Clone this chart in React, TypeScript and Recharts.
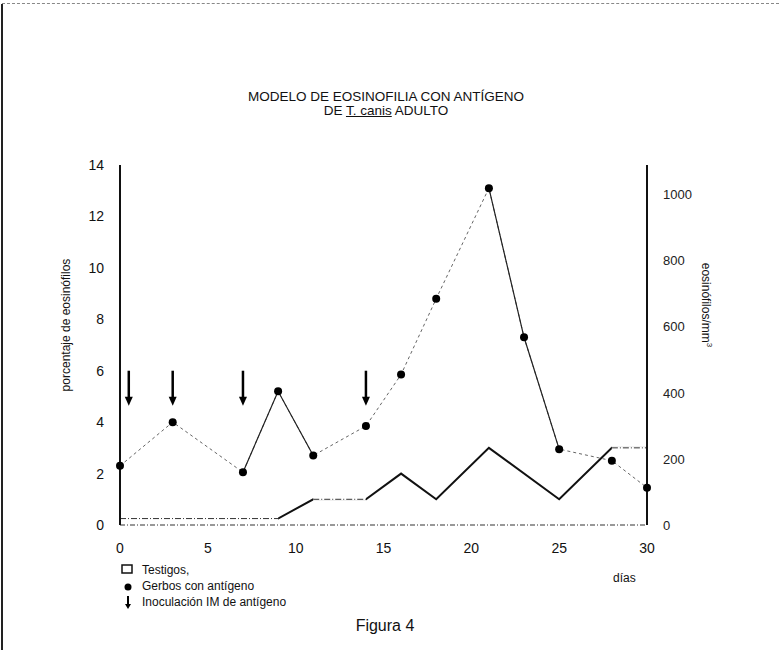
import {
  ComposedChart,
  Line,
  Scatter,
  XAxis,
  YAxis
} from "recharts";

// días de muestreo y porcentaje de eosinófilos en gerbos con antígeno
const gerbosDays = [0, 3, 7, 9, 11, 14, 16, 18, 21, 23, 25, 28, 30];
const gerbosPct = [2.3, 4.0, 2.05, 5.2, 2.7, 3.85, 5.85, 8.8, 13.1, 7.3, 2.95, 2.5, 1.45];
// tramos dibujados con línea continua (día inicial, día final)
const gerbosSolidRuns = [[7, 11], [21, 25]];

// testigos
const testigosDays = [0, 9, 11, 14, 16, 18, 21, 25, 28, 30];
const testigosPct = [0.25, 0.25, 1, 1, 2, 1, 3, 1, 3, 3];
// tramos discontinuos
const testigosDashRuns = [[0, 9], [11, 14], [28, 30]];

// inoculaciones IM de antígeno
const arrowDays = [0.5, 3, 7, 14];
const arrowLevel = 6;

const xTicks = [0, 5, 10, 15, 20, 25, 30];
const leftTicks = [0, 2, 4, 6, 8, 10, 12, 14];
const rightTicks = [0, 200, 400, 600, 800, 1000];

const gerbosData = gerbosDays.map((d, i) => ({ day: d, v: gerbosPct[i] }));
const testigosData = testigosDays.map((d, i) => ({ day: d, v: testigosPct[i] }));
const arrowData = arrowDays.map((d) => ({ day: d, v: arrowLevel }));

const pick = (data: { day: number; v: number }[], run: number[]) =>
  data.filter((p) => p.day >= run[0] && p.day <= run[1]);

const Arrow = (props: any) => {
  const { cx, cy } = props;
  return (
    <g>
      <line x1={cx} y1={cy} x2={cx} y2={cy + 28} stroke="#000" strokeWidth={2.5} />
      <path d={`M${cx - 4},${cy + 26} L${cx + 4},${cy + 26} L${cx},${cy + 35} Z`} fill="#000" />
    </g>
  );
};

const font = "'Liberation Sans', Arial, sans-serif";

export default function App() {
  return (
    <div
      style={{
        position: "absolute",
        left: 0,
        top: 0,
        width: 779,
        height: 652,
        background: "#fff",
        fontFamily: font,
        color: "#111"
      }}
    >
      {/* marco del escaneo */}
      <div style={{ position: "absolute", left: 2, top: 3, width: 777, height: 0, borderTop: "1px dashed #888" }} />
      <div style={{ position: "absolute", left: 1, top: 4, width: 0, height: 646, borderLeft: "2px solid #222" }} />

      <div style={{ position: "absolute", left: 186, top: 90, width: 400, textAlign: "center", fontSize: 13.5, lineHeight: "14px" }}>
        MODELO DE EOSINOFILIA CON ANTÍGENO
        <br />
        DE <span style={{ textDecoration: "underline" }}>T. canis</span> ADULTO
      </div>

      <ComposedChart
        width={779}
        height={652}
        margin={{ top: 165, right: 72, bottom: 97, left: 60 }}
      >
        <XAxis
          dataKey="day"
          type="number"
          domain={[0, 30]}
          ticks={xTicks}
          allowDuplicatedCategory={false}
          axisLine={{ stroke: "#333", strokeWidth: 1, strokeDasharray: "5 2 1 2" }}
          tickLine={false}
          tickMargin={12}
          height={30}
          tick={{ fill: "#111", fontSize: 14, fontFamily: font }}
        />
        <YAxis
          yAxisId="left"
          domain={[0, 14]}
          ticks={leftTicks}
          width={60}
          axisLine={{ stroke: "#111", strokeWidth: 2 }}
          tickLine={false}
          tickMargin={10}
          tick={{ fill: "#111", fontSize: 14, fontFamily: font }}
        />
        <YAxis
          yAxisId="right"
          orientation="right"
          type="number"
          domain={[0, 1090]}
          allowDataOverflow
          ticks={rightTicks}
          width={60}
          axisLine={{ stroke: "#111", strokeWidth: 2 }}
          tickLine={false}
          tickMargin={10}
          tick={{ fill: "#222", fontSize: 13, fontFamily: font }}
        />

        {/* el eje derecho no tiene serie propia */}
        <Line
          yAxisId="right"
          data={[]}
          dataKey="v"
          stroke="none"
          dot={false}
          isAnimationActive={false}
        />

        {/* testigos: línea continua gruesa con tramos discontinuos */}
        <Line
          yAxisId="left"
          data={testigosData}
          dataKey="v"
          stroke="#111"
          strokeWidth={2}
          dot={false}
          isAnimationActive={false}
          type="linear"
        />
        {testigosDashRuns.map((run, i) => (
          <Line
            key={`td-${i}`}
            yAxisId="left"
            data={pick(testigosData, run)}
            dataKey="v"
            stroke="#fff"
            strokeWidth={3}
            dot={false}
            isAnimationActive={false}
            type="linear"
          />
        ))}
        {testigosDashRuns.map((run, i) => (
          <Line
            key={`tdd-${i}`}
            yAxisId="left"
            data={pick(testigosData, run)}
            dataKey="v"
            stroke="#333"
            strokeWidth={1}
            strokeDasharray="6 2 1 2"
            dot={false}
            isAnimationActive={false}
            type="linear"
          />
        ))}

        {/* gerbos con antígeno */}
        <Line
          yAxisId="left"
          data={gerbosData}
          dataKey="v"
          stroke="#666"
          strokeWidth={1}
          strokeDasharray="3 3"
          dot={false}
          isAnimationActive={false}
          type="linear"
        />
        {gerbosSolidRuns.map((run, i) => (
          <Line
            key={`gs-${i}`}
            yAxisId="left"
            data={pick(gerbosData, run)}
            dataKey="v"
            stroke="#222"
            strokeWidth={1.2}
            dot={false}
            isAnimationActive={false}
            type="linear"
          />
        ))}
        <Scatter
          yAxisId="left"
          data={gerbosData}
          dataKey="v"
          fill="#000"
          shape={(p: any) => <circle cx={p.cx} cy={p.cy} r={4} fill="#000" />}
          isAnimationActive={false}
        />
        <Scatter
          yAxisId="left"
          data={arrowData}
          dataKey="v"
          shape={Arrow}
          isAnimationActive={false}
        />
      </ComposedChart>

      <div
        style={{
          position: "absolute",
          left: 66,
          top: 325,
          transform: "translate(-50%, -50%) rotate(-90deg)",
          whiteSpace: "nowrap",
          fontSize: 12
        }}
      >
        porcentaje de eosinófilos
      </div>
      <div
        style={{
          position: "absolute",
          left: 706,
          top: 305,
          transform: "translate(-50%, -50%) rotate(90deg)",
          whiteSpace: "nowrap",
          fontSize: 12
        }}
      >
        eosinófilos/mm<sup style={{ fontSize: 8 }}>3</sup>
      </div>

      <div style={{ position: "absolute", left: 613, top: 571, fontSize: 12 }}>días</div>

      {/* leyenda */}
      <svg style={{ position: "absolute", left: 118, top: 560 }} width={20} height={50}>
        <rect x={4} y={5} width={10} height={8} fill="none" stroke="#111" strokeWidth={1.5} />
        <circle cx={10} cy={27} r={3.5} fill="#000" />
        <line x1={10} y1={36} x2={10} y2={45} stroke="#000" strokeWidth={2} />
        <path d="M7,44 L13,44 L10,49 Z" fill="#000" />
      </svg>
      <div style={{ position: "absolute", left: 142, top: 562, fontSize: 12, lineHeight: "16px" }}>
        Testigos,
        <br />
        Gerbos con antígeno
        <br />
        Inoculación IM de antígeno
      </div>

      <div style={{ position: "absolute", left: 335, top: 617, width: 100, textAlign: "center", fontSize: 16 }}>
        Figura 4
      </div>
    </div>
  );
}
